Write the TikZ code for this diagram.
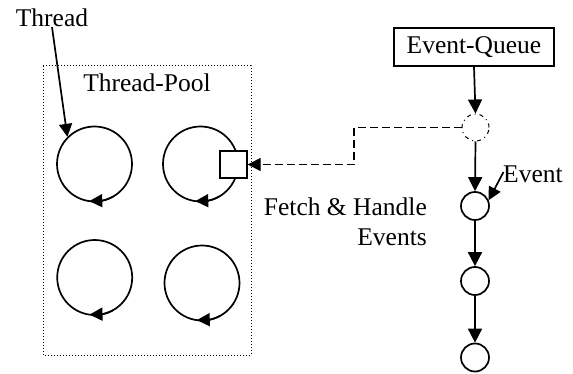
\documentclass[tikz,border=0pt]{standalone}
\usepackage{fontspec}
\setmainfont{Liberation Serif}
\usetikzlibrary{arrows.meta,bending}
\begin{document}
\begin{tikzpicture}[x=1pt,y=-1pt,
  lbl/.style={inner sep=0pt,font=\fontsize{25.5}{29}\selectfont},
  loop/.style={draw,circle,line width=1.7pt,minimum size=75pt,inner sep=0pt},
  evt/.style={draw,circle,line width=1.7pt,minimum size=28pt,inner sep=0pt},
  tip/.style={line width=1.7pt,-{Triangle[length=13pt,width=13pt]}},
  flow/.style={line width=1.7pt,-{Triangle[length=14pt,width=14pt]}}]
\useasboundingbox (0,0) rectangle (573,374);

% thread pool frame and its title
\draw[dotted,line width=1pt] (43,66) rectangle (251,355);
\node[lbl,anchor=base] (pooltitle) at (147,92) {Thread-Pool};

% threads, each a loop with a tip at the bottom
\node[loop] (t1) at (94.5,164) {};
\node[loop] (t2) at (200.5,164) {};
\node[loop] (t3) at (94.7,277.5) {};
\node[loop] (t4) at (202,283) {};
\foreach \t in {t1,t2,t3,t4}
  \draw[tip] ([shift={(60:37.5)}]\t.center) arc[start angle=60,end angle=98,radius=37.5];

% fetch slot on the second thread
\node[draw,fill=white,line width=1.4pt,minimum width=27pt,minimum height=27pt,inner sep=0pt] (sq) at (233.5,164.5) {};

% label for a single thread
\node[lbl,anchor=base] (thr) at (52,26.7) {Thread};
\draw[tip] (thr.south) -- (t1.135);

% event queue
\node[draw,line width=1.4pt,minimum width=160pt,minimum height=38pt,inner sep=0pt,lbl] (eq) at (474,47) {Event-Queue};
\node[circle,draw,line width=1pt,dash pattern=on 4pt off 4pt on 1pt off 4pt,minimum size=27pt,inner sep=0pt] (dq) at (475.5,127.5) {};
\node[evt] (e1) at (475,206) {};
\node[evt] (e2) at (475,281) {};
\node[evt] (e3) at (475,357.5) {};
\draw[flow] (eq.south) -- (dq.north);
\draw[flow] (dq.south) -- (e1.north);
\draw[flow] (e1.south) -- (e2.north);
\draw[flow] (e2.south) -- (e3.north);

% event label
\node[lbl,anchor=base west] (evl) at (503,183) {Event};
\coordinate (evtail) at (503.5,172);
\draw[tip] (evtail) -- (e1.23);

% fetching an event from the queue
\coordinate (jog) at (354,146);
\draw[line width=1.4pt,dash pattern=on 8pt off 4pt,-{Triangle[length=13pt,width=13pt]}]
  (dq.west) -| (jog) |- (sq.east);
\node[lbl,anchor=base east] (fh1) at (427,216) {Fetch \& Handle};
\node[lbl,anchor=base east] (fh2) at (427,245) {Events};
\end{tikzpicture}
\end{document}
